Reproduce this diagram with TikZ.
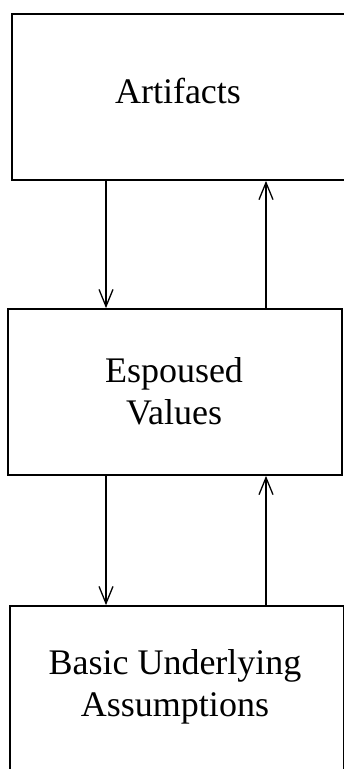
\documentclass[tikz,border=0pt]{standalone}
\usepackage{fontspec}
\setmainfont{Liberation Serif}
\usetikzlibrary{arrows.meta}
\begin{document}
\begin{tikzpicture}[x=1pt,y=-1pt,
  layer/.style={draw=black, line width=1.8pt, rectangle, inner sep=0pt,
    minimum width=334pt, minimum height=166pt},
  caption/.style={anchor=base, align=center,
    font=\fontsize{36}{42}\selectfont},
  flow/.style={draw=black, line width=1.4pt,
    -{Straight Barb[length=17pt,width=14pt,line width=1.3pt]}}]
  \fill[white] (0,0) rectangle (344,769);
  \useasboundingbox (0,0) rectangle (344,769);

  % the three levels
  \node[layer] (art) at (179,97) {};
  \node[layer] (esp) at (175,392) {};
  \node[layer] (bua) at (177,689) {};

  % captions, placed by the baseline of their last line
  \node[caption] (tart) at (178,103) {Artifacts};
  \node[caption] (tesp) at (174,424) {Espoused\\Values};
  \node[caption] (tbua) at (175,716) {Basic Underlying\\Assumptions};

  % columns of the downward and upward connectors
  \coordinate (dn) at (106,0);
  \coordinate (up) at (266,0);

  \draw[flow] (art.south -| dn) -- (esp.north -| dn);
  \draw[flow] (esp.north -| up) -- (art.south -| up);
  \draw[flow] (esp.south -| dn) -- (bua.north -| dn);
  \draw[flow] (bua.north -| up) -- (esp.south -| up);
\end{tikzpicture}
\end{document}
